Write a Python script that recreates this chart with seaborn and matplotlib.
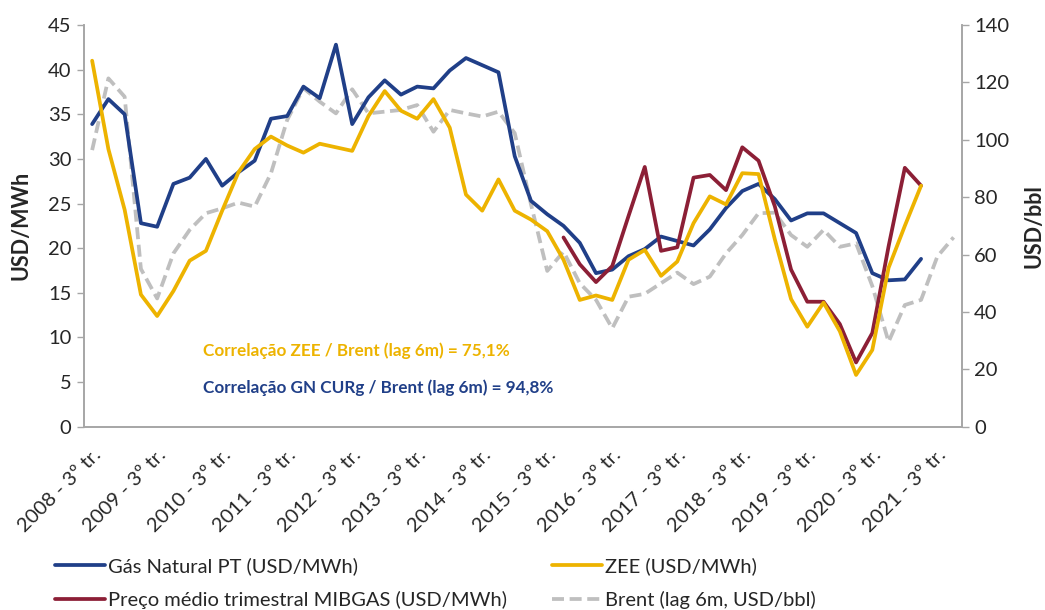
import numpy as np
import pandas as pd
import seaborn as sns
import matplotlib.pyplot as plt

# quarters 2008 Q3 .. 2021 Q4
quarters = [f"{y} - {q}º tr." for y in range(2008, 2022) for q in (1, 2, 3, 4)][2:]

gas_pt = [33.9, 36.7, 35.0, 22.8, 22.4, 27.2, 27.9, 30.0, 27.0, 28.5,
          29.8, 34.5, 34.8, 38.1, 36.8, 42.8, 33.9, 36.9, 38.8, 37.2,
          38.1, 37.9, 39.9, 41.3, 40.5, 39.7, 30.3, 25.3, 23.8, 22.5,
          20.6, 17.2, 17.6, 19.1, 19.9, 21.3, 20.8, 20.3, 22.1, 24.5,
          26.4, 27.2, 25.5, 23.1, 23.9, 23.9, 22.8, 21.7, 17.2, 16.4,
          16.5, 18.8]

zee = [41.0, 31.1, 24.3, 14.8, 12.4, 15.2, 18.6, 19.7, 24.2, 28.5,
       31.1, 32.5, 31.5, 30.7, 31.7, 31.3, 30.9, 34.8, 37.6, 35.4,
       34.5, 36.7, 33.5, 26.0, 24.2, 27.7, 24.2, 23.2, 21.9, 18.7,
       14.2, 14.7, 14.2, 18.7, 19.8, 16.9, 18.5, 22.8, 25.8, 24.9,
       28.4, 28.3, 21.0, 14.3, 11.2, 13.9, 10.7, 5.8, 8.6, 17.8,
       22.5, 27.0]

mibgas = [None] * 29 + [
    21.2, 18.2, 16.2, 18.0, 23.6, 29.1, 19.7, 20.1, 27.9, 28.2,
    26.5, 31.3, 29.8, 24.7, 17.6, 14.0, 14.0, 11.5, 7.2, 10.5,
    20.2, 29.0, 27.0]

brent = [96.4, 121.4, 115.0, 55.0, 44.7, 60.4, 68.6, 74.4, 76.1, 78.1,
         76.7, 88.3, 106.9, 118.0, 113.3, 109.2, 117.6, 109.2, 109.8, 110.4,
         112.1, 102.8, 110.4, 109.2, 108.1, 109.8, 102.3, 77.5, 54.3, 61.0,
         50.0, 44.2, 34.3, 45.3, 46.3, 50.0, 53.7, 49.7, 52.3, 60.4,
         66.8, 74.4, 74.6, 66.8, 62.7, 68.6, 62.7, 63.9, 49.0, 29.6,
         42.4, 44.2, 59.3, 66.0]

corr_labels = ["Correlação ZEE / Brent (lag 6m) = 75,1%",
               "Correlação GN CURg / Brent (lag 6m) = 94,8%"]

n = len(quarters)
df = pd.DataFrame({
    "q": np.arange(n),
    "gas": gas_pt + [np.nan] * (n - len(gas_pt)),
    "zee": zee + [np.nan] * (n - len(zee)),
    "mibgas": [np.nan if v is None else v for v in mibgas] + [np.nan] * (n - len(mibgas)),
    "brent": brent,
})

sns.set_style("white")
plt.rcParams["font.family"] = ["Lato", "DejaVu Sans"]

c_gas = "#203F88"
c_zee = "#EDB300"
c_mib = "#8C1F36"
c_brent = "#BFBFBF"
c_axis = "#A6A6A6"
lw = 2.7
fs = 14.5

fig = plt.figure(figsize=(10.45, 6.1), dpi=100)
ax = fig.add_axes([0.0804, 0.3005, 0.8399, 0.6585])
ax2 = ax.twinx()

sns.lineplot(data=df, x="q", y="gas", ax=ax, color=c_gas, lw=lw, label="Gás Natural PT (USD/MWh)", legend=False)
sns.lineplot(data=df, x="q", y="mibgas", ax=ax, color=c_mib, lw=lw, label="Preço médio trimestral MIBGAS (USD/MWh)", legend=False)
sns.lineplot(data=df, x="q", y="zee", ax=ax, color=c_zee, lw=lw, label="ZEE (USD/MWh)", legend=False)
sns.lineplot(data=df, x="q", y="brent", ax=ax2, color=c_brent, lw=lw, label="Brent (lag 6m, USD/bbl)", legend=False)
ax2.lines[0].set_dashes([3.2, 1.5])
ax.set_zorder(ax2.get_zorder() + 1)
ax.patch.set_visible(False)

ax.set_xlim(-0.5, n - 0.5)
ax.set_ylim(0, 45)
ax2.set_ylim(0, 140)
ax.set_yticks(np.arange(0, 46, 5))
ax2.set_yticks(np.arange(0, 141, 20))

ax.set_xticks(np.arange(0, n, 4))
ax.set_xticklabels(quarters[::4], rotation=45, ha="right", rotation_mode="anchor")
ax.set_xticks(np.arange(-0.5, n, 1), minor=True)
ax.tick_params(axis="x", which="major", length=0, pad=14, labelsize=fs)
ax.tick_params(axis="x", which="minor", length=5, color=c_axis, width=1)
ax.tick_params(axis="y", length=5, color=c_axis, width=1, labelsize=fs, pad=4)
ax2.tick_params(axis="y", length=5, color=c_axis, width=1, labelsize=fs, pad=4)

for a in (ax, ax2):
    a.spines["top"].set_visible(False)
    for s in ("left", "right", "bottom"):
        a.spines[s].set_color(c_axis)
        a.spines[s].set_linewidth(1.2)
    a.set_xlabel("")

ax.set_ylabel("USD/MWh", fontsize=15.5, fontweight="bold", labelpad=12)
ax2.set_ylabel("USD/bbl", fontsize=15.5, fontweight="bold", labelpad=10)

ax.text(6.8, 8.5, corr_labels[0], color=c_zee, fontsize=12.3, fontweight="bold", va="center")
ax.text(6.8, 4.35, corr_labels[1], color=c_gas, fontsize=12.3, fontweight="bold", va="center")

handles = ax.get_lines()[:3] + ax2.get_lines()[:1]
labels = [h.get_label() for h in handles]
fig.legend(handles, labels, ncol=2, loc="upper left", bbox_to_anchor=(0.045, 0.1),
           frameon=False, fontsize=fs, handlelength=2.5, handletextpad=0.15,
           columnspacing=2.2, labelspacing=0.78, borderaxespad=0)

fig.savefig("out.png", dpi=100)
